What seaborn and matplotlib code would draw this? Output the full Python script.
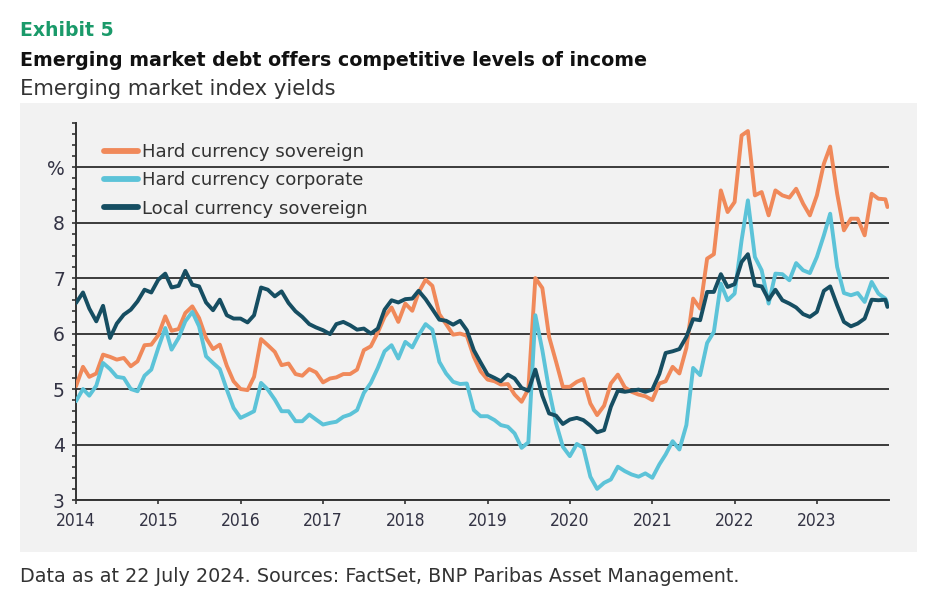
import numpy as np
import pandas as pd
import matplotlib
matplotlib.use("Agg")
import matplotlib.pyplot as plt
import matplotlib.dates as mdates
from matplotlib.ticker import FixedLocator, MultipleLocator, FixedFormatter
from matplotlib.patches import Rectangle
from matplotlib import font_manager as fm
import seaborn as sns

# ---------------- data (monthly, Jan 2014 -> Nov 2023, plus last partial point) ----------------
start_month = "2014-01-01"
n_months = 119
last_date = "2023-11-10"

hard_sov = [
    5.05, 5.40, 5.22, 5.28, 5.62, 5.58, 5.53, 5.56, 5.41, 5.50, 5.79, 5.80,   # 2014
    5.97, 6.31, 6.05, 6.08, 6.37, 6.49, 6.28, 5.92, 5.72, 5.80, 5.42, 5.14,   # 2015
    5.00, 4.98, 5.22, 5.90, 5.79, 5.67, 5.43, 5.46, 5.27, 5.24, 5.36, 5.30,   # 2016
    5.12, 5.19, 5.21, 5.27, 5.27, 5.35, 5.70, 5.77, 6.02, 6.30, 6.47, 6.21,   # 2017
    6.54, 6.41, 6.74, 6.97, 6.86, 6.35, 6.17, 5.98, 6.00, 5.96, 5.58, 5.32,   # 2018
    5.17, 5.14, 5.08, 5.09, 4.90, 4.77, 5.00, 7.00, 6.82, 5.94, 5.49, 5.04,   # 2019
    5.04, 5.13, 5.18, 4.74, 4.53, 4.70, 5.10, 5.26, 5.03, 4.95, 4.90, 4.87,   # 2020
    4.80, 5.10, 5.14, 5.40, 5.28, 5.74, 6.63, 6.45, 7.35, 7.43, 8.58, 8.19,   # 2021
    8.37, 9.57, 9.65, 8.49, 8.55, 8.13, 8.58, 8.49, 8.45, 8.61, 8.34, 8.13,   # 2022
    8.49, 9.06, 9.37, 8.52, 7.86, 8.07, 8.07, 7.77, 8.52, 8.43, 8.42,         # 2023
    8.28,                                                                     # last
]
hard_corp = [
    4.78, 5.00, 4.88, 5.06, 5.47, 5.36, 5.22, 5.20, 5.00, 4.96, 5.24, 5.35,
    5.74, 6.10, 5.71, 5.92, 6.22, 6.39, 6.13, 5.59, 5.47, 5.36, 4.99, 4.66,
    4.48, 4.54, 4.60, 5.11, 4.99, 4.81, 4.60, 4.60, 4.42, 4.42, 4.54, 4.45,
    4.36, 4.39, 4.41, 4.50, 4.54, 4.62, 4.93, 5.11, 5.38, 5.68, 5.79, 5.55,
    5.85, 5.75, 5.97, 6.17, 6.07, 5.49, 5.28, 5.13, 5.09, 5.10, 4.62, 4.51,
    4.51, 4.44, 4.35, 4.32, 4.20, 3.94, 4.04, 6.33, 5.70, 4.98, 4.38, 3.96,
    3.79, 4.01, 3.94, 3.42, 3.20, 3.31, 3.37, 3.60, 3.52, 3.46, 3.42, 3.48,
    3.40, 3.64, 3.82, 4.06, 3.91, 4.35, 5.38, 5.25, 5.83, 6.03, 6.90, 6.60,
    6.72, 7.68, 8.40, 7.38, 7.14, 6.54, 7.08, 7.07, 6.96, 7.27, 7.14, 7.09,
    7.38, 7.77, 8.16, 7.20, 6.73, 6.69, 6.73, 6.57, 6.93, 6.72, 6.63,
    6.54,
]
local_sov = [
    6.55, 6.74, 6.45, 6.22, 6.50, 5.92, 6.18, 6.34, 6.43, 6.58, 6.79, 6.74,
    6.97, 7.08, 6.83, 6.86, 7.13, 6.88, 6.85, 6.56, 6.42, 6.61, 6.33, 6.27,
    6.27, 6.20, 6.33, 6.83, 6.79, 6.67, 6.76, 6.55, 6.40, 6.30, 6.17, 6.11,
    6.06, 5.99, 6.17, 6.21, 6.15, 6.07, 6.09, 6.00, 6.09, 6.43, 6.60, 6.56,
    6.62, 6.63, 6.77, 6.62, 6.44, 6.25, 6.23, 6.16, 6.23, 6.06, 5.70, 5.48,
    5.26, 5.20, 5.14, 5.26, 5.19, 5.02, 4.97, 5.35, 4.88, 4.56, 4.52, 4.37,
    4.45, 4.48, 4.44, 4.34, 4.22, 4.26, 4.68, 4.97, 4.95, 4.97, 4.99, 4.95,
    4.99, 5.27, 5.65, 5.68, 5.72, 5.94, 6.26, 6.24, 6.75, 6.75, 7.07, 6.84,
    6.89, 7.29, 7.43, 6.87, 6.85, 6.61, 6.79, 6.60, 6.54, 6.47, 6.35, 6.30,
    6.39, 6.77, 6.85, 6.51, 6.21, 6.13, 6.18, 6.27, 6.61, 6.60, 6.61,
    6.48,
]
series_names = ["Hard currency sovereign", "Hard currency corporate", "Local currency sovereign"]
series_colors = ["#F0895A", "#5CC3D8", "#164E62"]
ytick_values = [3, 4, 5, 6, 7, 8, 9]
ytick_labels = ["3", "4", "5", "6", "7", "8", "%"]

title_exhibit = "Exhibit 5"
title_main = "Emerging market debt offers competitive levels of income"
title_sub = "Emerging market index yields"
footer = "Data as at 22 July 2024. Sources: FactSet, BNP Paribas Asset Management."

# ---------------- build table ----------------
dates = list(pd.date_range(start_month, periods=n_months, freq="MS")) + [pd.Timestamp(last_date)]
df = pd.concat([
    pd.DataFrame({"date": dates, "yield": vals, "series": name})
    for name, vals in zip(series_names, [hard_sov, hard_corp, local_sov])
], ignore_index=True)

# ---------------- style ----------------
sns.set_theme(style="white")
plt.rcParams["font.family"] = ["DejaVu Sans"]
available = {f.name for f in fm.fontManager.ttflist}
narrow_family = "Liberation Sans Narrow" if "Liberation Sans Narrow" in available else "DejaVu Sans"

W, H = 940, 605
fig = plt.figure(figsize=(W / 100, H / 100), dpi=100, facecolor="white")

# grey panel behind chart
fig.patches.append(Rectangle((20 / W, 1 - 552 / H), (917 - 20) / W, (552 - 103) / H,
                             transform=fig.transFigure, facecolor="#f2f2f2",
                             edgecolor="none", zorder=-10))

ax = fig.add_axes([76 / W, 1 - 500 / H, (889 - 76) / W, (500 - 122.7) / H])
ax.set_zorder(5)
ax.set_facecolor("none")

sns.lineplot(data=df, x="date", y="yield", hue="series", hue_order=series_names,
             palette=series_colors, linewidth=2.8, estimator=None, sort=False, ax=ax,
             zorder=3)

ax.set_ylim(3, 9.8)
ax.set_xlim(pd.Timestamp("2014-01-01"), pd.Timestamp("2023-11-17"))

ax.yaxis.set_major_locator(FixedLocator(ytick_values))
ax.yaxis.set_major_formatter(FixedFormatter(ytick_labels))
ax.yaxis.set_minor_locator(MultipleLocator(0.2))
ax.xaxis.set_major_locator(mdates.YearLocator())
ax.xaxis.set_major_formatter(mdates.DateFormatter("%Y"))

ax.grid(axis="y", which="major", color="#3c3c3c", linewidth=1.4, zorder=1)
ax.grid(axis="x", visible=False)
ax.set_axisbelow(True)

for s in ["top", "right"]:
    ax.spines[s].set_visible(False)
for s in ["left", "bottom"]:
    ax.spines[s].set_color("#333333")
    ax.spines[s].set_linewidth(1.4)

ax.tick_params(axis="y", which="both", direction="out", length=3, width=1.2,
               color="#333333", left=True, labelsize=13.5, labelcolor="#333344", pad=5)
ax.tick_params(axis="x", which="major", direction="out", length=3, width=1.2,
               color="#333333", bottom=True, labelsize=12.5, labelcolor="#333344", pad=6)
for lab in ax.get_xticklabels():
    lab.set_family(narrow_family)
    lab.set_fontstretch("condensed")

ax.set_xlabel("")
ax.set_ylabel("")

leg = ax.legend(loc="upper left", bbox_to_anchor=(0.026, 0.965), frameon=False,
                fontsize=13.1, handlelength=1.85, handletextpad=0.2, labelspacing=0.56,
                borderaxespad=0)
for line in leg.get_lines():
    line.set_linewidth(4.2)
for t in leg.get_texts():
    t.set_color("#333333")

# titles
fig.text(20 / W, 1 - 30 / H, title_exhibit, fontsize=13.6, color="#1A9A6A",
         fontweight="semibold", va="center", ha="left")
fig.text(20 / W, 1 - 61 / H, title_main, fontsize=13.65, color="#111111",
         fontweight="bold", va="center", ha="left")
fig.text(20 / W, 1 - 89 / H, title_sub, fontsize=15.2, color="#333333",
         va="center", ha="left")
fig.text(20 / W, 1 - 577 / H, footer, fontsize=13.8, color="#333333",
         va="center", ha="left")

fig.savefig("out.png", dpi=100, facecolor="white")
